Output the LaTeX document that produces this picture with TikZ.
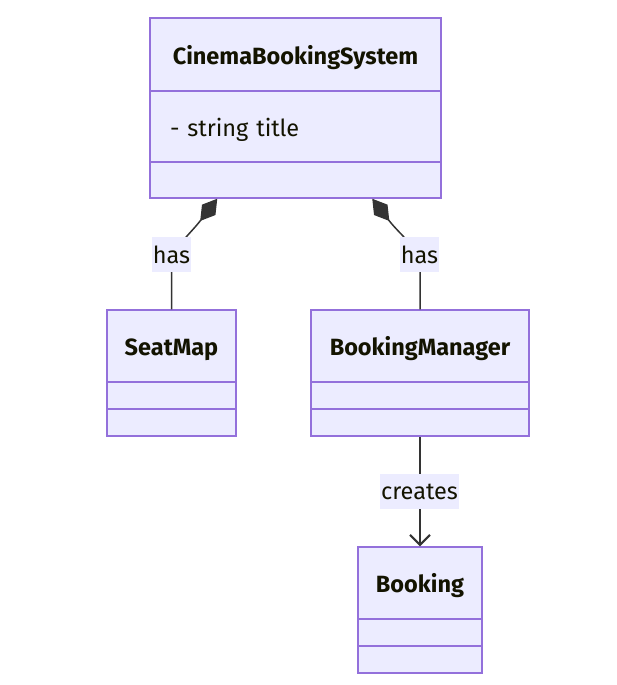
\documentclass[tikz,border=0pt]{standalone}
\usepackage{fontspec}
\setmainfont{Fira Sans}
\usetikzlibrary{arrows.meta}
\definecolor{classfill}{HTML}{ECECFF}
\definecolor{classline}{HTML}{9370DB}
\definecolor{edgeline}{HTML}{333333}
\definecolor{classtext}{HTML}{131300}
\tikzset{
	part/.style={draw=classline, fill=classfill, line width=1.5pt, inner sep=0pt, text height=22pt, text depth=3pt, text=classtext, font=\fontsize{23.5}{28}\selectfont},
	edgelabel/.style={fill=classfill, inner xsep=1pt, inner ysep=0pt, minimum height=35pt, text=classtext, font=\fontsize{23.5}{28}\selectfont},
	relation/.style={draw=edgeline, line width=1.5pt},
	composition/.style={relation, {Diamond[length=28pt, width=17pt]}-},
	dependency/.style={relation, -{Straight Barb[length=10pt, width=20pt, line width=2pt]}}
}
\begin{document}
\begin{tikzpicture}[x=1pt, y=-1pt]
	%%%%% START %%%%%
	\useasboundingbox (0, 0) rectangle (616, 685);
	
	% CinemaBookingSystem
	\node[part, minimum width=291pt, minimum height=73pt] (cbsName) at (295.5, 54.5) {\textbf{CinemaBookingSystem}};
	\node[part, minimum height=71pt, text width=251pt, inner xsep=20pt, align=left] (cbsAttr) at (295.5, 126.5) {- string title};
	\node[part, minimum width=291pt, minimum height=36pt] (cbsMeth) at (295.5, 180) {};
	
	% SeatMap
	\node[part, minimum width=129pt, minimum height=72pt] (seatName) at (171.5, 346) {\textbf{SeatMap}};
	\node[part, minimum width=129pt, minimum height=27pt, text height=0pt, text depth=0pt] (seatAttr) at (171.5, 395.5) {};
	\node[part, minimum width=129pt, minimum height=27pt, text height=0pt, text depth=0pt] (seatMeth) at (171.5, 422.5) {};
	
	% BookingManager
	\node[part, minimum width=218pt, minimum height=72pt] (mgrName) at (420, 346) {\textbf{BookingManager}};
	\node[part, minimum width=218pt, minimum height=27pt, text height=0pt, text depth=0pt] (mgrAttr) at (420, 395.5) {};
	\node[part, minimum width=218pt, minimum height=27pt, text height=0pt, text depth=0pt] (mgrMeth) at (420, 422.5) {};
	
	% Booking
	\node[part, minimum width=124pt, minimum height=72pt] (bkName) at (420, 583) {\textbf{Booking}};
	\node[part, minimum width=124pt, minimum height=27pt, text height=0pt, text depth=0pt] (bkAttr) at (420, 632.5) {};
	\node[part, minimum width=124pt, minimum height=27pt, text height=0pt, text depth=0pt] (bkMeth) at (420, 659.5) {};
	
	% relations with their labels
	\draw[composition] ([xshift=68pt]cbsMeth.south west) .. controls +(-30, 39) and +(0, -25) .. (171.5, 272) -- (seatName.north)
		node[edgelabel] (hasSeat) at (171.5, 254.5) {has};
	\draw[composition] ([xshift=223pt]cbsMeth.south west) .. controls +(30, 39) and +(0, -25) .. (420, 272) -- (mgrName.north)
		node[edgelabel] (hasMgr) at (419.5, 254.5) {has};
	\draw[dependency] (mgrMeth.south) -- (bkName.north)
		node[edgelabel] (creates) at (419.5, 491.5) {creates};
	
	%%%%% END %%%%%
\end{tikzpicture}
\end{document}
